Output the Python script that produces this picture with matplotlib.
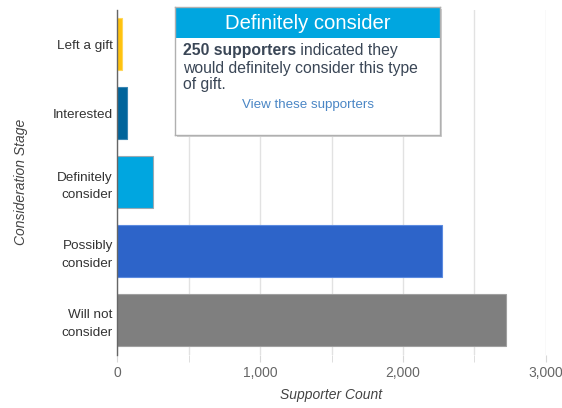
import matplotlib.pyplot as plt
from matplotlib.patches import Rectangle
from matplotlib.ticker import MultipleLocator, FuncFormatter

plt.rcParams['font.family'] = ['Liberation Sans', 'DejaVu Sans']

stages = ["Left a gift", "Interested", "Definitely\nconsider", "Possibly\nconsider", "Will not\nconsider"]
counts = [35, 70, 250, 2275, 2720]
colors = ["#FFC20E", "#00649B", "#00A6E0", "#2D64C9", "#7F7F7F"]
edges = ["#FFD75A", "#3A86B3", "#9AA9B2", "#5C8BE0", "#A0A0A0"]

tip_title = "Definitely consider"
tip_bold = "250 supporters"
tip_rest = [" indicated they", "would definitely consider this type", "of gift."]
tip_link = "View these supporters"

fig = plt.figure(figsize=(5.62, 4.08), dpi=100)
ax = fig.add_axes([117/562, 1 - 354.5/408, 429/562, 345/408])

ypos = range(len(stages))
ax.barh(ypos, counts, height=0.76, color=colors, edgecolor=edges, linewidth=0.8, zorder=3)
ax.set_ylim(len(stages) - 0.5, -0.5)
ax.set_xlim(0, 3000)

ax.xaxis.set_major_locator(MultipleLocator(1000))
ax.xaxis.set_minor_locator(MultipleLocator(500))
ax.xaxis.set_major_formatter(FuncFormatter(lambda v, p: f"{int(v):,}"))
ax.grid(axis='x', which='both', color='#e2e2e2', linewidth=1.0, zorder=0)
ax.tick_params(axis='x', which='both', length=5, color='#d8d8d8', labelsize=10,
               labelcolor='#666666', pad=3)
ax.tick_params(axis='y', length=0, labelsize=9.7, labelcolor='#333333', pad=3)
ax.set_yticks(list(ypos))
ax.set_yticklabels(stages, ha='right', linespacing=1.65)

for s in ['top', 'right', 'bottom']:
    ax.spines[s].set_visible(False)
ax.spines['left'].set_color('#666666')
ax.spines['left'].set_linewidth(1.0)
ax.spines['left'].set_zorder(4)

ax.set_xlabel("Supporter Count", fontstyle='italic', fontsize=10, color='#444444', labelpad=6)
ax.set_ylabel("Consideration Stage", fontstyle='italic', fontsize=10, color='#444444', labelpad=18)

# tooltip panel
tx0, ty0, tw, th = 175/562, 1 - 135/408, 265/562, 128/408
fig.patches.append(Rectangle((tx0 + 2/562, ty0 - 2/408), tw, th, transform=fig.transFigure,
                             facecolor='#d0d0d0', edgecolor='none', zorder=5))
tip = fig.add_axes([tx0, ty0, tw, th], zorder=6)
tip.set_xlim(0, 265)
tip.set_ylim(128, 0)
tip.set_xticks([])
tip.set_yticks([])
tip.set_facecolor('white')
for s in tip.spines.values():
    s.set_color('#b0b0b0')
    s.set_linewidth(1.0)
tip.add_patch(Rectangle((0, 0), 265, 31, facecolor='#00A6E0', edgecolor='none'))
tip.text(132.5, 16.5, tip_title, color='white', fontsize=14.6, ha='center', va='center')

body = dict(fontsize=11.3, color='#3a4656')
b = tip.text(8, 44, tip_bold, fontweight='bold', ha='left', va='center', **body)
tip.annotate(tip_rest[0], xy=(1, 0), xycoords=b, ha='left', va='bottom', **body)
tip.text(8, 61, tip_rest[1], ha='left', va='center', **body)
tip.text(8, 78, tip_rest[2], ha='left', va='center', **body)
tip.text(132.5, 98, tip_link, color='#4a86c5', fontsize=9.6, ha='center', va='center')

fig.savefig("out.png", dpi=100)
